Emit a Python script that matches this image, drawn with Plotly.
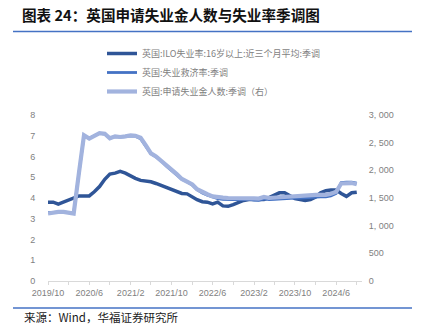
import pandas as pd
import plotly.graph_objects as go

# Monthly observations, 2019/10 – 2024/10
months = pd.date_range("2019-10-01", periods=61, freq="MS")

# UK ILO unemployment rate, 16+, 3-month average, SA (%)
ilo_rate = [
    3.8, 3.8, 3.7, 3.8, 3.9, 4.0, 4.1, 4.1, 4.1, 4.3,
    4.55, 4.9, 5.15, 5.2, 5.28, 5.2, 5.05, 4.95, 4.85, 4.82,
    4.78, 4.7, 4.6, 4.5, 4.4, 4.3, 4.22, 4.2, 4.05, 3.92,
    3.82, 3.8, 3.72, 3.8, 3.62, 3.6, 3.68, 3.78, 3.88, 3.93,
    3.93, 3.95, 3.93, 4.02, 4.15, 4.25, 4.25, 4.1, 3.97, 3.93,
    3.88, 3.92, 4.05, 4.25, 4.35, 4.38, 4.38, 4.22, 4.08, 4.25,
    4.28,
]

# UK claimant count rate, SA (%)
claimant_rate = [
    3.3, 3.32, 3.33, 3.33, 3.3, 3.28, 5.2, 7.0, 6.88, 7.0,
    7.12, 7.08, 6.88, 6.96, 6.93, 6.96, 7.0, 6.98, 6.86, 6.5,
    6.13, 5.98, 5.78, 5.53, 5.33, 5.13, 4.9, 4.78, 4.62, 4.4,
    4.24, 4.14, 4.04, 3.97, 3.94, 3.92, 3.92, 3.92, 3.94, 3.95,
    3.9, 3.89, 3.96, 3.92, 3.94, 3.96, 3.96, 3.98, 3.99, 4.0,
    4.02, 4.03, 4.05, 4.05, 4.06, 4.1, 4.22, 4.74, 4.76, 4.76,
    4.72,
]

# UK claimant count, SA (thousands, right axis)
claimant_count = [
    1219, 1238, 1249, 1249, 1230, 1219, 1950, 2633, 2573, 2625,
    2674, 2663, 2580, 2614, 2603, 2614, 2633, 2625, 2588, 2456,
    2306, 2250, 2175, 2081, 2006, 1931, 1845, 1800, 1744, 1658,
    1601, 1568, 1530, 1511, 1508, 1500, 1500, 1500, 1508, 1511,
    1493, 1489, 1519, 1500, 1508, 1519, 1519, 1526, 1530, 1538,
    1545, 1549, 1556, 1556, 1556, 1575, 1613, 1763, 1770, 1770,
    1748,
]

series_names = [
    "英国:ILO失业率:16岁以上:近三个月平均:季调",
    "英国:失业救济率:季调",
    "英国:申请失业金人数:季调（右）",
]

left_ticks = list(range(0, 9))
right_ticks = [0, 500, 1000, 1500, 2000, 2500, 3000]
right_labels = ["0", "500", "1, 000", "1, 500", "2, 000", "2, 500", "3, 000"]

x_tick_dates = pd.date_range("2019-10-01", "2024-10-01", freq="4MS")
x_tick_text = [
    f"{d.year}/{d.month}" if i % 2 == 0 else "" for i, d in enumerate(x_tick_dates)
]

DARK = "#2F5597"
MID = "#4472C4"
LIGHT = "#A2B3DE"
TICK_FONT = dict(family="Liberation Sans, Noto Sans CJK SC", size=9, color="#7F7F7F")

fig = go.Figure()
fig.add_trace(go.Scatter(x=months, y=ilo_rate, name=series_names[0], mode="lines",
                         line=dict(color=DARK, width=3.5)))
fig.add_trace(go.Scatter(x=months, y=claimant_rate, name=series_names[1], mode="lines",
                         line=dict(color=MID, width=2.8)))
fig.add_trace(go.Scatter(x=months, y=claimant_count, name=series_names[2], mode="lines",
                         yaxis="y2", line=dict(color=LIGHT, width=4.2)))

# pixel helpers for the 314 x 166 plot area
PL, PR, PT, PB = 48, 362, 115, 281


def px_x(px):
    return (px - PL) / (PR - PL)


def px_y(py):
    return (PB - py) / (PB - PT)


fig.update_layout(
    width=421, height=330,
    margin=dict(l=PL, r=421 - PR, t=PT, b=330 - PB),
    paper_bgcolor="white", plot_bgcolor="white",
    showlegend=True,
    title=dict(
        text="<b>图表 24：英国申请失业金人数与失业率季调图</b>",
        x=22 / 421, xanchor="left", xref="container",
        y=1 - 15.5 / 330, yanchor="middle", yref="container",
        font=dict(family="Noto Sans CJK SC", size=14.6, color="#111111"),
    ),
    legend=dict(
        x=px_x(102), y=px_y(39), xanchor="left", yanchor="top",
        orientation="v", bgcolor="rgba(0,0,0,0)",
        font=dict(family="Noto Sans CJK SC", size=9, color="#7F7F7F"),
        tracegroupgap=0,
    ),
    xaxis=dict(
        type="date",
        range=["2019-10-01", "2024-11-01"],
        tickvals=list(x_tick_dates), ticktext=x_tick_text,
        ticks="outside", ticklen=3, tickcolor="#D9D9D9", tickwidth=1,
        showline=True, linecolor="#D9D9D9", linewidth=1,
        showgrid=False, zeroline=False,
        tickfont=TICK_FONT,
    ),
    yaxis=dict(
        range=[0, 8], tickvals=left_ticks,
        showgrid=False, zeroline=False, showline=False,
        ticks="outside", ticklen=10, tickcolor="rgba(0,0,0,0)",
        tickfont=TICK_FONT,
    ),
    yaxis2=dict(
        range=[0, 3000], tickvals=right_ticks, ticktext=right_labels,
        overlaying="y", side="right",
        showgrid=False, zeroline=False, showline=False,
        ticks="outside", ticklen=4, tickcolor="rgba(0,0,0,0)",
        tickfont=TICK_FONT,
    ),
    shapes=[
        dict(type="line", xref="paper", yref="paper",
             x0=px_x(13), x1=px_x(412), y0=px_y(31.5), y1=px_y(31.5),
             line=dict(color=MID, width=1.3)),
        dict(type="line", xref="paper", yref="paper",
             x0=px_x(13), x1=px_x(412), y0=px_y(308), y1=px_y(308),
             line=dict(color=MID, width=1.3)),
    ],
    annotations=[
        dict(text="来源：Wind，华福证券研究所", xref="paper", yref="paper",
             x=px_x(22), y=px_y(316.5), xanchor="left", yanchor="middle",
             showarrow=False,
             font=dict(family="Noto Sans CJK SC", size=11.5, color="#1a1a1a")),
    ],
)

fig.write_html("out.html")
